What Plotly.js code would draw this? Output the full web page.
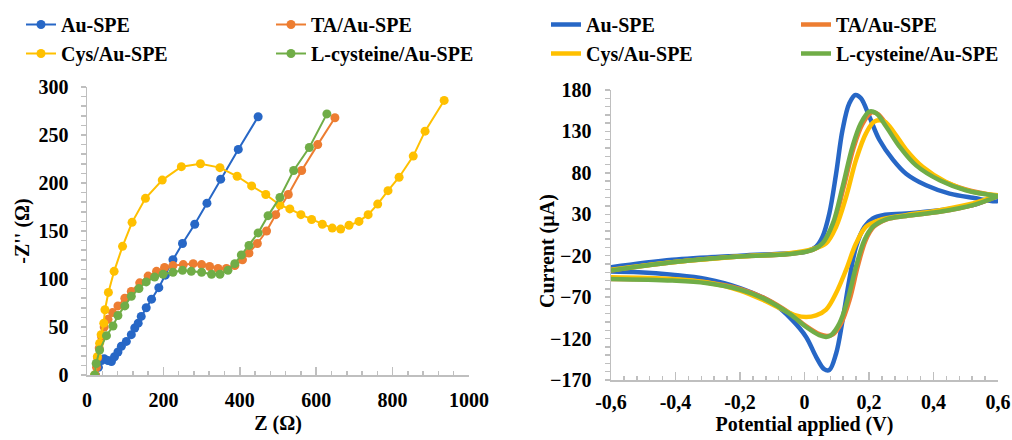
<!DOCTYPE html>
<html>
<head>
<meta charset="utf-8">
<script src="https://cdn.plot.ly/plotly-3.0.1.min.js"></script>
<style>html,body{margin:0;padding:0;background:#fff;}#chart{width:1012px;height:440px;}</style>
</head>
<body>
<div id="chart"></div>
<script>
// ---------- Nyquist data (left) ----------
const seriesNames = ["Au-SPE", "TA/Au-SPE", "Cys/Au-SPE", "L-cysteine/Au-SPE"];
const seriesColors = ["#2767C6", "#ED7D31", "#FFC000", "#70AD47"];

const zAu = [22, 30, 38, 45, 55, 64, 72, 81, 90, 103, 116, 125, 134, 142, 155, 169, 188, 205, 225, 250, 282, 314, 350, 396, 448];
const zzAu = [0, 8, 15, 17, 15, 14, 19, 24, 30, 35, 42, 49, 54, 61, 70, 79, 91, 104, 120, 137, 157, 179, 204, 235, 269];

const zTA = [22, 25, 28, 32, 38, 45, 55, 67, 81, 99, 116, 138, 160, 182, 203, 225, 252, 278, 300, 321, 343, 365, 387, 407, 424, 446, 470, 494, 527, 562, 604, 649];
const zzTA = [0, 8, 18, 28, 40, 50, 58, 65, 72, 80, 87, 96, 103, 108, 112, 114, 115, 116, 115, 113, 111, 111, 114, 120, 127, 137, 150, 167, 188, 213, 240, 268];

const zCys = [20, 27, 33, 37, 44, 47, 56, 71, 93, 118, 153, 197, 247, 297, 348, 393, 431, 468, 505, 531, 560, 588, 616, 642, 664, 686, 712, 736, 761, 788, 817, 854, 885, 935];
const zzCys = [0, 19, 33, 42, 54, 68, 86, 108, 134, 159, 184, 203, 217, 220, 216, 207, 197, 188, 177, 173, 167, 162, 157, 153, 152, 156, 160, 167, 178, 192, 206, 228, 254, 286];

const zLcys = [20, 24, 33, 51, 68, 81, 99, 116, 136, 155, 177, 199, 225, 250, 273, 300, 326, 348, 369, 387, 404, 424, 448, 474, 505, 541, 582, 628];
const zzLcys = [0, 12, 26, 41, 51, 62, 72, 82, 90, 97, 102, 105, 107, 109, 108, 107, 105, 105, 109, 116, 125, 135, 148, 166, 185, 213, 237, 272];

// ---------- CV data (right): forward then reverse scan ----------
const eAu = [-0.6, -0.41, -0.2, -0.047, 0.005, 0.036, 0.056, 0.077, 0.098, 0.118, 0.139, 0.158, 0.175, 0.201, 0.232, 0.274, 0.315, 0.377, 0.45, 0.522, 0.6,
             0.6, 0.522, 0.419, 0.315, 0.243, 0.212, 0.186, 0.16, 0.139, 0.118, 0.098, 0.077, 0.061, 0.036, 0.005, -0.037, -0.099, -0.2, -0.306, -0.41, -0.513, -0.6];
const iAu = [-34, -25, -20, -17, -15, -9, 3, 31, 79, 132, 164, 174, 170, 148, 120, 96, 79, 65, 55, 50, 46,
             51, 41, 35, 31, 29, 25, 15, -9, -49, -98, -138, -158, -157, -142, -118, -98, -77, -59, -48, -43, -40, -39];

const eTA = [-0.6, -0.41, -0.2, -0.047, 0.025, 0.058, 0.09, 0.121, 0.152, 0.18, 0.208, 0.228, 0.258, 0.298, 0.348, 0.419, 0.5, 0.6,
             0.6, 0.522, 0.419, 0.315, 0.255, 0.215, 0.19, 0.165, 0.14, 0.113, 0.088, 0.07, 0.048, 0.005, -0.047, -0.12, -0.2, -0.306, -0.41, -0.6];
const iTA = [-38, -28, -21, -18, -13, -5, 18, 62, 110, 139, 153, 151, 136, 113, 90, 72, 60, 52,
             52, 41, 33, 28, 24, 15, -1, -33, -73, -102, -115, -117, -115, -105, -89, -72, -60, -52, -49, -48];

const eCys = [-0.6, -0.41, -0.2, -0.047, 0.025, 0.067, 0.098, 0.129, 0.16, 0.191, 0.217, 0.248, 0.279, 0.315, 0.367, 0.439, 0.522, 0.6,
              0.6, 0.522, 0.419, 0.315, 0.232, 0.191, 0.16, 0.129, 0.098, 0.067, 0.036, 0.005, -0.027, -0.068, -0.12, -0.2, -0.306, -0.41, -0.6];
const iCys = [-37, -28, -21, -17, -12, -5, 15, 51, 96, 128, 142, 142, 128, 108, 87, 69, 57, 53,
              53, 43, 35, 29, 23, 15, -5, -37, -65, -85, -92, -94, -92, -85, -75, -62, -52, -48, -46];

const eLcys = [-0.6, -0.41, -0.2, -0.047, 0.025, 0.056, 0.088, 0.118, 0.149, 0.175, 0.201, 0.222, 0.253, 0.294, 0.346, 0.419, 0.5, 0.6,
               0.6, 0.522, 0.419, 0.315, 0.253, 0.212, 0.186, 0.16, 0.134, 0.108, 0.082, 0.067, 0.046, 0.005, -0.047, -0.12, -0.2, -0.306, -0.41, -0.6];
const iLcys = [-38, -28, -21, -18, -13, -5, 19, 63, 112, 140, 154, 152, 136, 112, 89, 71, 59, 52,
               52, 41, 33, 28, 24, 15, -1, -33, -73, -102, -116, -118, -116, -106, -90, -73, -61, -53, -50, -48];

// tick labels
const nyqTickVals = [0, 200, 400, 600, 800, 1000];
const cvTickVals = [-0.6, -0.4, -0.2, 0, 0.2, 0.4, 0.6];
const cvTickText = ["-0,6", "-0,4", "-0,2", "0", "0,2", "0,4", "0,6"];
const cvYTickVals = [-170, -120, -70, -20, 30, 80, 130, 180];

const FONT = "Liberation Serif, Times New Roman, serif";
const nyqX = [zAu, zTA, zCys, zLcys];
const nyqY = [zzAu, zzTA, zzCys, zzLcys];
const cvX = [eAu, eTA, eCys, eLcys];
const cvY = [iAu, iTA, iCys, iLcys];
// legend column per series: left column = Au-SPE, Cys; right column = TA, L-cysteine
const leftLeg = ["legend", "legend3", "legend", "legend3"];
const rightLeg = ["legend2", "legend4", "legend2", "legend4"];

const traces = [];
for (let k = 0; k < 4; k++) {
  traces.push({
    x: nyqX[k], y: nyqY[k], name: seriesNames[k], type: "scatter", mode: "lines+markers",
    xaxis: "x", yaxis: "y", legend: leftLeg[k],
    line: {color: seriesColors[k], width: 2},
    marker: {color: seriesColors[k], size: 9}
  });
}
for (let k = 0; k < 4; k++) {
  traces.push({
    x: cvX[k], y: cvY[k], name: seriesNames[k], type: "scatter", mode: "lines",
    xaxis: "x2", yaxis: "y2", legend: rightLeg[k],
    line: {color: seriesColors[k], width: 4.5, shape: "spline", smoothing: 1}
  });
}

const tickFont = {family: FONT, size: 20, color: "#000", weight: "bold"};
const titleFont = {family: FONT, size: 20, color: "#000", weight: "bold"};
const legFont = {family: FONT, size: 20, color: "#000", weight: "bold"};
function leg(px) {
  return {orientation: "v", x: px/1012, y: 1 - 5/440, xanchor: "left", yanchor: "top",
          bgcolor: "rgba(0,0,0,0)", font: legFont, traceorder: "normal", tracegroupgap: 0};
}

const layout = {
  width: 1012, height: 440,
  margin: {l: 0, r: 0, t: 0, b: 0},
  paper_bgcolor: "#fff", plot_bgcolor: "#fff",
  font: {family: FONT, size: 20, color: "#000"},
  showlegend: true,
  xaxis: {
    domain: [87/1012, 469/1012], range: [0, 1000], tickvals: nyqTickVals,
    ticks: "inside", ticklen: 8, tickcolor: "#BFBFBF", tickwidth: 1.5,
    minor: {dtick: 40, ticks: "inside", ticklen: 4, tickcolor: "#BFBFBF", tickwidth: 1.5},
    showline: true, linecolor: "#BFBFBF", linewidth: 1.5, showgrid: false, zeroline: false,
    tickfont: tickFont, ticklabelstandoff: 6,
    title: {text: "<b>Z (Ω)</b>", font: titleFont, standoff: 6}, anchor: "y"
  },
  yaxis: {
    domain: [65/440, 353/440], range: [0, 300], dtick: 50,
    ticks: "outside", ticklen: 5, tickcolor: "#BFBFBF", tickwidth: 1.5,
    minor: {dtick: 10, ticks: "outside", ticklen: 5, tickcolor: "#BFBFBF", tickwidth: 1.5},
    showline: true, linecolor: "#BFBFBF", linewidth: 1.5, showgrid: false, zeroline: false,
    tickfont: tickFont, ticklabelstandoff: 8,
    title: {text: "<b>-Z'' (Ω)</b>", font: titleFont, standoff: 3}, anchor: "x"
  },
  xaxis2: {
    domain: [611/1012, 998/1012], range: [-0.6, 0.6], tickvals: cvTickVals, ticktext: cvTickText,
    ticks: "inside", ticklen: 8, tickcolor: "#BFBFBF", tickwidth: 1.5,
    minor: {dtick: 0.04, tick0: -0.6, ticks: "inside", ticklen: 4, tickcolor: "#BFBFBF", tickwidth: 1.5},
    showline: true, linecolor: "#BFBFBF", linewidth: 1.5, showgrid: false, zeroline: false,
    tickfont: tickFont, ticklabelstandoff: 3,
    title: {text: "<b>Potential applied (V)</b>", font: titleFont, standoff: 2}, anchor: "y2"
  },
  yaxis2: {
    domain: [60/440, 350/440], range: [-170, 180], tickvals: cvYTickVals,
    ticks: "outside", ticklen: 5, tickcolor: "#BFBFBF", tickwidth: 1.5,
    minor: {dtick: 10, tick0: -170, ticks: "outside", ticklen: 5, tickcolor: "#BFBFBF", tickwidth: 1.5},
    showline: true, linecolor: "#BFBFBF", linewidth: 1.5, showgrid: false, zeroline: false,
    tickfont: tickFont, ticklabelstandoff: 9, anchor: "x2"
  },
  annotations: [{
    text: "<b>Current (µA)</b>", font: titleFont, textangle: -90, showarrow: false,
    xref: "paper", yref: "paper", x: 547/1012, y: (440 - 251)/440, xanchor: "center", yanchor: "middle"
  }],
  legend: leg(21),
  legend3: leg(271),
  legend2: leg(546),
  legend4: leg(796)
};

Plotly.newPlot("chart", traces, layout, {displayModeBar: false, staticPlot: true});
</script>
</body>
</html>
